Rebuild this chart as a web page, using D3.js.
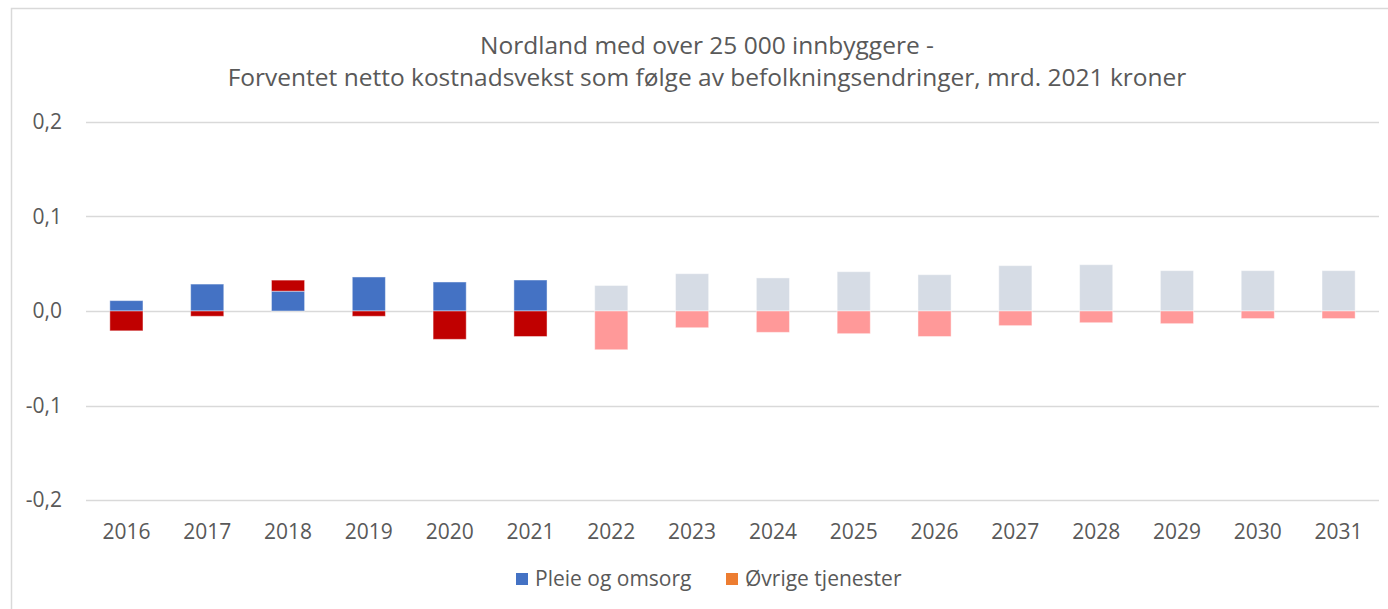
<!DOCTYPE html>
<html>
<head>
<meta charset="utf-8">
<script src="https://cdn.jsdelivr.net/npm/d3@7"></script>
<style>
  body { margin: 0; background: #fff; }
  svg text { font-family: "Open Sans", "Noto Sans", sans-serif; fill: #595959; }
</style>
</head>
<body>
<svg id="chart" width="1388" height="609"></svg>
<script>
'use strict';

// data
var years = ['2016', '2017', '2018', '2019', '2020', '2021', '2022', '2023',
             '2024', '2025', '2026', '2027', '2028', '2029', '2030', '2031'];
var pleie = [0.011, 0.0285, 0.021, 0.036, 0.0307, 0.0328, 0.027, 0.0395,
             0.035, 0.0416, 0.0384, 0.048, 0.049, 0.0427, 0.0427, 0.0427];
var ovrige = [-0.021, -0.0056, 0.0117, -0.0056, -0.030, -0.027, -0.041, -0.0177,
              -0.0226, -0.024, -0.027, -0.0155, -0.0124, -0.0134, -0.008, -0.008];
var lastActual = '2021';
var yTicks = [-0.2, -0.1, 0, 0.1, 0.2];
var seriesNames = ['Pleie og omsorg', 'Øvrige tjenester'];
var titleLines = ['Nordland med over 25 000 innbyggere -',
                  'Forventet netto kostnadsvekst som følge av befolkningsendringer,  mrd. 2021 kroner'];

var svg = d3.select('#chart');
var W = 1388, H = 609;
var m = {left: 86, right: 9, top: 122, bottom: 109};

// chart frame
svg.append('rect').attr('x', 11.5).attr('y', 8.5)
  .attr('width', W).attr('height', H)
  .attr('fill', 'none').attr('stroke', '#d9d9d9').attr('stroke-width', 1.5);

var x = d3.scaleBand().domain(years).range([m.left, W - m.right])
  .paddingInner(0.59).paddingOuter(0.295);
var y = d3.scaleLinear().domain([-0.2, 0.2]).range([H - m.bottom, m.top]);

var fmt = function(d) { return d3.format('.1f')(d).replace('.', ',').replace('−', '-'); };

// gridlines + y labels
var grid = svg.append('g');
grid.selectAll('line').data(yTicks).enter().append('line')
  .attr('x1', m.left).attr('x2', W - m.right)
  .attr('y1', function(d) { return Math.round(y(d)) + 0.5; })
  .attr('y2', function(d) { return Math.round(y(d)) + 0.5; })
  .attr('stroke', '#d9d9d9').attr('stroke-width', 1.3);
grid.selectAll('text').data(yTicks).enter().append('text')
  .attr('x', 62).attr('y', function(d) { return y(d); })
  .attr('dy', '.35em').attr('text-anchor', 'end')
  .style('font-size', '21px').text(fmt);

// stacked bars (positive and negative stacked apart)
var rows = years.map(function(yr, i) { return {year: yr, p: pleie[i], o: ovrige[i]}; });
var stack = d3.stack().keys(['p', 'o']).offset(d3.stackOffsetDiverging);
var layers = stack(rows);
var colours = {
  p: ['#4472c4', '#d6dce5'],
  o: ['#c00000', '#ff9999']
};
function isProj(yr) { return +yr > +lastActual; }

var bars = svg.append('g');
layers.forEach(function(layer) {
  bars.append('g').selectAll('rect').data(layer).enter().append('rect')
    .attr('x', function(d) { return x(d.data.year); })
    .attr('width', x.bandwidth())
    .attr('y', function(d) { return y(Math.max(d[0], d[1])); })
    .attr('height', function(d) { return Math.abs(y(d[0]) - y(d[1])); })
    .attr('fill', function(d) { return colours[layer.key][isProj(d.data.year) ? 1 : 0]; })
    .attr('stroke', '#fff').attr('stroke-opacity', 0.45).attr('stroke-width', 1);
});

// x labels
svg.append('g').selectAll('text').data(years).enter().append('text')
  .attr('x', function(d) { return x(d) + x.bandwidth() / 2; })
  .attr('y', 532).attr('dy', '.35em').attr('text-anchor', 'middle')
  .style('font-size', '21px').text(function(d) { return d; });

// title
svg.append('g').selectAll('text').data(titleLines).enter().append('text')
  .attr('x', 707).attr('y', function(d, i) { return 45 + i * 32; })
  .attr('dy', '.35em').attr('text-anchor', 'middle')
  .style('font-size', '24.5px').text(function(d) { return d; });

// legend
var legend = [{name: seriesNames[0], col: '#4472c4', x: 516},
              {name: seriesNames[1], col: '#ed7d31', x: 726}];
var lg = svg.append('g').selectAll('g').data(legend).enter().append('g')
  .attr('transform', function(d) { return 'translate(' + d.x + ',579)'; });
lg.append('rect').attr('x', 0).attr('y', -6).attr('width', 12).attr('height', 12)
  .attr('fill', function(d) { return d.col; });
lg.append('text').attr('x', 19).attr('dy', '.35em')
  .style('font-size', '21px').text(function(d) { return d.name; });
</script>
</body>
</html>
